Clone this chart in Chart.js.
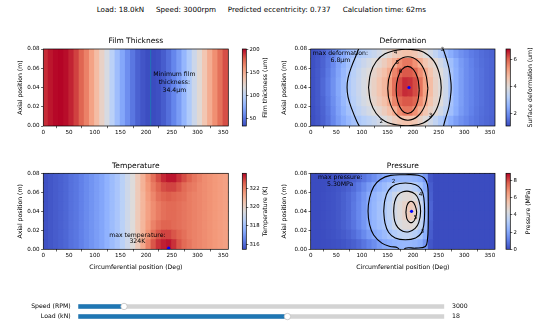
<!DOCTYPE html>
<html>
<head>
<meta charset="utf-8">
<title>Bearing field maps</title>
<script src="https://cdn.jsdelivr.net/npm/chart.js@4.4.1/dist/chart.umd.min.js"></script>
<style>
  html, body { margin: 0; padding: 0; background: #fff; }
  #page { position: relative; width: 550px; height: 333px; overflow: hidden; font-family: "DejaVu Sans", sans-serif; }
  #page canvas { position: absolute; }
  .info { position: absolute; top: 5px; font-size: 7.2px; line-height: 10px; white-space: nowrap; color: #000; }
</style>
</head>
<body>
<div id="page"></div>
<script>
// ---- values ----
const infoLabels = ['Load: ', 'Speed: ', 'Predicted eccentricity: ', 'Calculation time: '];
const infoValues = ['18.0kN', '3000rpm', '0.737', '62ms'];

const thetaCenters = [5,15,25,35,45,55,65,75,85,95,105,115,125,135,145,155,165,175,185,195,205,215,225,235,245,255,265,275,285,295,305,315,325,335,345,355];
const axialEdges = [0, 0.01, 0.02, 0.03, 0.04, 0.05, 0.06, 0.07, 0.08];
const xTicks = [0, 50, 100, 150, 200, 250, 300, 350];
const yTicks = [0, 0.02, 0.04, 0.06, 0.08];

// film thickness (um), one value per 10 deg column
const filmThickness = [193,198,201,202,200,195,188,179,169,156,143,128,114,99,85,72,61,51,43,38,35,34.4,36,41,48,57,67,80,93,108,122,137,151,164,175,185];
const filmRange = [34.4, 202];
const filmTicks = [50, 100, 150, 200];
const filmMinTheta = 209;

// surface deformation (um), rows from y=0 upwards
const defRowEdge   = [1.17,1.26,1.4,1.6,1.9,2.2,2.45,2.7,2.9,3.05,3.2,3.35,3.5,3.7,3.9,4.15,4.4,4.55,4.65,4.65,4.55,4.3,4.0,3.7,3.4,3.1,2.8,2.5,2.25,2.05,1.9,1.75,1.65,1.55,1.48,1.42];
const defRowNear   = [1.18,1.28,1.42,1.65,1.95,2.3,2.6,2.9,3.15,3.35,3.55,3.75,3.95,4.15,4.4,4.7,5.0,5.5,5.75,5.75,5.45,5.0,4.6,4.3,4.05,3.7,3.35,2.85,2.5,2.2,2.0,1.82,1.68,1.58,1.5,1.45];
const defRowMid    = [1.2,1.3,1.45,1.7,2.0,2.35,2.7,3.0,3.25,3.5,3.75,3.95,4.2,4.45,4.7,5.05,5.6,5.95,6.1,6.1,5.95,5.5,5.05,4.6,4.2,3.95,3.55,2.95,2.55,2.25,2.0,1.85,1.7,1.6,1.5,1.45];
const defRowCenter = [1.2,1.3,1.5,1.75,2.05,2.4,2.75,3.05,3.3,3.55,3.8,4.05,4.3,4.6,4.85,5.3,5.85,6.2,6.45,6.4,6.2,5.8,5.2,4.75,4.25,4.0,3.6,2.95,2.55,2.25,2.0,1.85,1.7,1.6,1.5,1.45];
const deformation = [defRowEdge, defRowNear, defRowMid, defRowCenter, defRowCenter, defRowMid, defRowNear, defRowEdge];
const defRange = [1.12, 6.75];
const defTicks = [2, 4, 6];
const def6 = [[212,0.0375],[209,0.0498],[200.7,0.0587],[189.5,0.062],[178.2,0.0587],[170,0.0498],[167,0.0375],[170,0.0253],[178.2,0.0163],[189.5,0.013],[200.7,0.0163],[209,0.0253],[212,0.0375]];
const def5 = [[229,0.039],[223.8,0.0555],[209.5,0.0676],[189.8,0.072],[170.2,0.0676],[155.8,0.0555],[150.5,0.039],[155.8,0.0225],[170.2,0.0104],[189.8,0.006],[209.5,0.0104],[223.8,0.0225],[229,0.039]];
const def4 = [[113,0.04],[117,0.055],[128,0.067],[145,0.075],[170,0.079],[195,0.0795],[220,0.077],[240,0.068],[251,0.055],[255,0.04],[251,0.025],[240,0.012],[220,0.003],[195,0.0005],[170,0.001],[145,0.005],[128,0.013],[117,0.025],[113,0.04]];
const def3L = [[100,-0.005],[90,0.005],[80,0.018],[73,0.03],[71,0.04],[73,0.05],[80,0.062],[90,0.075],[97,0.085]];
const def3R = [[255,0.085],[262,0.075],[270,0.06],[274,0.045],[274,0.035],[270,0.02],[263,0.007],[257,-0.005]];
const defLevelLabels = [['4',165.6,0.0762],['5',169,0.0662],['6',175.4,0.0564],['3',234,0.0104],['2',138,0.0045],['3',257,0.079]];
const defPeak = [192, 0.04];

// temperature (K), rows from y=0 upwards
const temperature = [
  [315.6,315.7,315.8,315.9,316.0,316.2,316.3,316.5,316.7,316.9,317.1,317.3,317.6,317.9,318.2,318.6,319.1,319.6,320.3,321.2,322.0,322.7,323.1,323.3,323.4,323.1,322.7,322.4,322.2,322.0,321.9,321.8,321.7,321.6,321.5,321.4],
  [315.6,315.7,315.8,315.9,316.0,316.2,316.3,316.5,316.7,316.9,317.1,317.3,317.6,317.9,318.2,318.6,319.1,319.6,320.3,321.0,321.7,322.3,322.7,322.9,322.9,322.7,322.5,322.3,322.1,322.0,321.9,321.8,321.7,321.6,321.5,321.4],
  [315.6,315.7,315.8,315.9,316.0,316.2,316.3,316.5,316.7,316.9,317.1,317.3,317.6,317.9,318.2,318.6,319.1,319.6,320.3,320.9,321.5,322.0,322.3,322.5,322.5,322.4,322.3,322.2,322.1,322.0,321.9,321.8,321.7,321.6,321.5,321.4],
  [315.6,315.7,315.8,315.9,316.0,316.2,316.3,316.5,316.7,316.9,317.1,317.3,317.6,317.9,318.2,318.6,319.1,319.6,320.3,320.9,321.4,321.8,322.1,322.3,322.4,322.4,322.3,322.2,322.1,322.0,321.9,321.8,321.7,321.6,321.5,321.4],
  [315.6,315.7,315.8,315.9,316.0,316.2,316.3,316.5,316.7,316.9,317.1,317.3,317.6,317.9,318.2,318.6,319.1,319.6,320.3,320.9,321.4,321.8,322.1,322.3,322.4,322.4,322.3,322.2,322.1,322.0,321.9,321.8,321.7,321.6,321.5,321.4],
  [315.6,315.7,315.8,315.9,316.0,316.2,316.3,316.5,316.7,316.9,317.1,317.3,317.6,317.9,318.2,318.6,319.1,319.6,320.3,320.9,321.5,321.9,322.3,322.5,322.6,322.5,322.4,322.3,322.1,322.0,321.9,321.8,321.7,321.6,321.5,321.4],
  [315.6,315.7,315.8,315.9,316.0,316.2,316.3,316.5,316.7,316.9,317.1,317.3,317.6,317.9,318.2,318.6,319.1,319.6,320.3,321.0,321.6,322.1,322.5,322.8,322.9,322.9,322.7,322.4,322.2,322.1,321.9,321.8,321.7,321.6,321.5,321.4],
  [315.6,315.7,315.8,315.9,316.0,316.2,316.3,316.5,316.7,316.9,317.1,317.3,317.6,317.9,318.2,318.6,319.1,319.6,320.3,321.0,321.7,322.3,322.8,323.2,323.4,323.4,323.1,322.8,322.5,322.2,322.0,321.8,321.7,321.6,321.5,321.4]
];
const tempRange = [315.5, 323.6];
const tempTicks = [316, 318, 320, 322];
const tempPeak = [244, 0.0012];

// pressure (MPa), rows from y=0 upwards
const presRowEdge   = [0,0,0.02,0.05,0.08,0.12,0.18,0.28,0.4,0.6,0.85,1.1,1.4,1.75,2.05,2.2,2.35,2.45,2.5,2.5,2.4,2.2,1.6,0.2,0,0,0,0,0,0,0,0,0,0,0,0];
const presRowNear   = [0,0,0.03,0.08,0.12,0.2,0.3,0.45,0.65,0.95,1.3,1.7,2.05,2.3,2.6,2.9,3.2,3.45,3.55,3.55,3.3,2.9,2.2,0.35,0,0,0,0,0,0,0,0,0,0,0,0];
const presRowMid    = [0,0,0.05,0.1,0.15,0.25,0.4,0.6,0.85,1.2,1.6,2.05,2.4,2.7,2.95,3.3,3.85,4.3,4.55,4.6,4.4,3.6,2.5,0.4,0,0,0,0,0,0,0,0,0,0,0,0];
const presRowCenter = [0,0,0.05,0.1,0.15,0.25,0.4,0.6,0.9,1.25,1.65,2.1,2.45,2.8,3.1,3.5,4.1,4.5,4.9,5.25,5.0,3.95,2.6,0.5,0,0,0,0,0,0,0,0,0,0,0,0];
const pressure = [presRowEdge, presRowNear, presRowMid, presRowCenter, presRowCenter, presRowMid, presRowNear, presRowEdge];
const presRange = [0, 8.86];
const presTicks = [0, 2, 4, 6, 8];
const pres2 = [[176,-0.004],[170,0.0015],[155,0.003],[139,0.0065],[123,0.015],[115,0.026],[112,0.04],[115,0.054],[123,0.066],[136,0.0735],[156,0.0778],[185,0.0785],[210,0.078],[222,0.075],[228,0.068],[229.5,0.055],[229.5,0.025],[228,0.01],[224,0.003],[205,0.0012],[185,0.0012],[180,-0.004]];
const pres3 = [[142.6,0.04],[145,0.052],[152,0.062],[165,0.068],[185,0.0698],[205,0.068],[216,0.063],[221,0.054],[222.6,0.04],[221,0.026],[216,0.017],[205,0.012],[185,0.0101],[165,0.012],[152,0.018],[145,0.028],[142.6,0.04]];
const pres4 = [[162,0.04],[164,0.05],[170,0.057],[180,0.0605],[192,0.061],[204,0.058],[211,0.052],[214.7,0.04],[211,0.028],[204,0.022],[192,0.0185],[180,0.019],[170,0.023],[164,0.03],[162,0.04]];
const pres5 = [[186,0.039],[188,0.046],[193,0.05],[199,0.05],[204,0.046],[207,0.039],[204,0.032],[199,0.0285],[193,0.0285],[188,0.032],[186,0.039]];
const presLevelLabels = [['2',162,0.0716],['4',214.7,0.058],['5',205,0.033],['3',218,0.0185]];
const presPeak = [197, 0.04];

// sliders
const sliderLabels = ['Speed (RPM)', 'Load (kN)'];
const sliderValues = [3000, 18];
const sliderMin = [1000, 2];
const sliderMax = [17000, 30];

// ---- drawing ----
Chart.defaults.font.family = '"DejaVu Sans", sans-serif';
Chart.defaults.font.size = 6.2;
Chart.defaults.color = '#000';
Chart.defaults.animation = false;
Chart.defaults.responsive = false;
Chart.defaults.events = [];
Chart.defaults.plugins.legend.display = false;
Chart.defaults.plugins.tooltip.enabled = false;

const cwStops = [[59,76,192],[98,130,234],[141,176,254],[184,208,249],[221,220,220],[244,196,173],[244,154,123],[222,96,77],[180,4,38]];
function coolwarm(t) {
  t = Math.min(1, Math.max(0, t));
  const s = t * 8, i = Math.min(7, Math.floor(s)), f = s - i;
  const a = cwStops[i], b = cwStops[i + 1];
  return 'rgb(' + [0, 1, 2].map(k => Math.round(a[k] + (b[k] - a[k]) * f)).join(',') + ')';
}

const page = document.getElementById('page');
function addCanvas(box) {
  const c = document.createElement('canvas');
  c.width = box.w; c.height = box.h;
  c.style.left = box.left + 'px'; c.style.top = box.top + 'px';
  c.style.width = box.w + 'px'; c.style.height = box.h + 'px';
  page.appendChild(c);
  return c;
}

infoLabels.forEach((t, i) => {
  const s = document.createElement('span');
  s.className = 'info';
  s.style.left = [96.7, 156, 227.7, 342.7][i] + 'px';
  s.textContent = t + infoValues[i];
  page.appendChild(s);
});

const framePlugin = {
  id: 'frame',
  afterDatasetsDraw(chart) {
    const {ctx, chartArea: a} = chart;
    ctx.save();
    ctx.strokeStyle = '#000';
    ctx.lineWidth = 0.7;
    ctx.strokeRect(a.left, a.top, a.right - a.left, a.bottom - a.top);
    ctx.restore();
  }
};

const notesPlugin = {
  id: 'notes',
  afterDatasetsDraw(chart, args, opts) {
    const {ctx, scales: {x, y}} = chart;
    ctx.save();
    ctx.fillStyle = '#000';
    ctx.textAlign = 'center';
    ctx.textBaseline = 'middle';
    ctx.font = '6.2px "DejaVu Sans"';
    (opts.blocks || []).forEach(b => {
      const px = x.getPixelForValue(b.at[0]), py = y.getPixelForValue(b.at[1]);
      b.text.forEach((t, i) => ctx.fillText(t, px, py + i * b.gap));
    });
    ctx.font = '5.6px "DejaVu Sans"';
    (opts.levels || []).forEach(l => ctx.fillText(l[0], x.getPixelForValue(l[1]), y.getPixelForValue(l[2])));
    ctx.restore();
  }
};

const cbLabelPlugin = {
  id: 'cbLabel',
  afterDraw(chart, args, opts) {
    const {ctx, chartArea: a} = chart;
    ctx.save();
    ctx.translate(opts.x, (a.top + a.bottom) / 2);
    ctx.rotate(-Math.PI / 2);
    ctx.fillStyle = '#000';
    ctx.textAlign = 'center';
    ctx.textBaseline = 'middle';
    ctx.font = '6.2px "DejaVu Sans"';
    ctx.fillText(opts.text, 0, 0);
    ctx.restore();
  }
};

function fieldChart(box, area, spec) {
  const canvas = addCanvas(box);
  const xh = spec.xTitle ? 24 : 14;
  const datasets = [];
  spec.grid.forEach((row, r) => {
    datasets.push({
      type: 'bar', order: 3, grouped: false,
      data: row.map((v, c) => ({x: thetaCenters[c], y: [spec.edges[r], spec.edges[r + 1]]})),
      backgroundColor: row.map(v => coolwarm((v - spec.range[0]) / (spec.range[1] - spec.range[0]))),
      barPercentage: 1, categoryPercentage: 1, borderWidth: 0, inflateAmount: 0.6
    });
  });
  (spec.contours || []).forEach(pts => datasets.push({
    type: 'line', order: 2, data: pts.map(p => ({x: p[0], y: p[1]})),
    borderColor: '#000', borderWidth: 1.1, pointRadius: 0, tension: 0.4, fill: false
  }));
  if (spec.vline !== undefined) {
    datasets.push({type: 'line', order: 2, data: [{x: spec.vline, y: 0}, {x: spec.vline, y: 0.08}],
      borderColor: '#1f77b4', borderWidth: 1, pointRadius: 0});
  }
  if (spec.peak) {
    datasets.push({type: 'scatter', order: 1, data: [{x: spec.peak[0], y: spec.peak[1]}],
      pointRadius: 1.6, pointBackgroundColor: '#0000ff', pointBorderWidth: 0});
  }
  return new Chart(canvas, {
    type: 'bar',
    data: {datasets},
    options: {
      layout: {padding: {left: 0, right: box.left + box.w - area.r, top: area.t - box.top - 12, bottom: box.top + box.h - area.b - xh}},
      scales: {
        x: {
          type: 'linear', min: 0, max: 360, offset: false,
          afterFit: s => { s.height = xh; },
          afterBuildTicks: s => { s.ticks = xTicks.map(v => ({value: v})); },
          ticks: {padding: 0.8, font: {size: 5.6}, callback: v => String(v)},
          grid: {drawOnChartArea: false, tickLength: 2.2, color: '#000', lineWidth: 0.6},
          border: {display: false},
          title: {display: !!spec.xTitle, text: 'Circumferential position (Deg)', padding: {top: 0, bottom: 2.2}}
        },
        y: {
          min: 0, max: 0.08,
          afterFit: s => { s.width = area.l - box.left; },
          afterBuildTicks: s => { s.ticks = yTicks.map(v => ({value: v})); },
          ticks: {padding: 1.5, font: {size: 5.6}, callback: v => v.toFixed(2)},
          grid: {drawOnChartArea: false, tickLength: 2.2, color: '#000', lineWidth: 0.6},
          border: {display: false},
          title: {display: true, text: 'Axial position (m)', padding: {top: spec.yTitlePad, bottom: 0}}
        }
      },
      plugins: {
        title: {display: true, text: spec.title, fullSize: false, font: {size: 7.5, weight: 'normal'}, padding: {top: 0, bottom: 3}, color: '#000'},
        notes: {blocks: spec.blocks, levels: spec.levels}
      }
    },
    plugins: [framePlugin, notesPlugin]
  });
}

function colorbarChart(box, area, range, ticks, label, labelX) {
  const canvas = addCanvas(box);
  return new Chart(canvas, {
    type: 'bar',
    data: {labels: [''], datasets: [{
      data: [range], barPercentage: 1, categoryPercentage: 1, borderWidth: 0,
      backgroundColor: c => {
        const ch = c.chart;
        if (!ch.chartArea) return '#ccc';
        const y = ch.scales.y;
        const g = ch.ctx.createLinearGradient(0, y.getPixelForValue(range[0]), 0, y.getPixelForValue(range[1]));
        cwStops.forEach((s, i) => g.addColorStop(i / 8, 'rgb(' + s.join(',') + ')'));
        return g;
      }
    }]},
    options: {
      layout: {padding: {left: area.l - box.left, right: 0, top: area.t - box.top, bottom: box.top + box.h - area.b}},
      scales: {
        x: {display: false},
        y: {
          position: 'right', min: range[0], max: range[1],
          afterFit: s => { s.width = box.left + box.w - area.r; },
          afterBuildTicks: s => { s.ticks = ticks.map(v => ({value: v})); },
          ticks: {padding: 1.2, font: {size: 5.3}, callback: v => String(v)},
          grid: {drawOnChartArea: false, tickLength: 2, color: '#000', lineWidth: 0.6},
          border: {display: false}
        }
      },
      plugins: {cbLabel: {text: label, x: labelX - box.left}}
    },
    plugins: [framePlugin, cbLabelPlugin]
  });
}

// Film thickness
fieldChart({left: 0, top: 30, w: 236, h: 112}, {l: 43.3, t: 49, r: 228.3, b: 126}, {
  title: 'Film Thickness', grid: [filmThickness], edges: [0, 0.08], range: filmRange, yTitlePad: 16.2,
  vline: filmMinTheta,
  blocks: [{text: ['Minimum film', 'thickness:', '34.4μm'], at: [255, 0.0537], gap: 8.2}]
});
colorbarChart({left: 236, top: 40, w: 39, h: 95}, {l: 242.3, t: 49, r: 246.3, b: 126}, filmRange, filmTicks, 'Film thickness (um)', 265.3);

// Deformation
fieldChart({left: 275, top: 30, w: 230, h: 112}, {l: 310.7, t: 49, r: 495, b: 126}, {
  title: 'Deformation', grid: deformation, edges: axialEdges, range: defRange, yTitlePad: 5.9,
  contours: [def6, def5, def4, def3L, def3R], peak: defPeak, levels: defLevelLabels,
  blocks: [{text: ['max deformation:', '6.8μm'], at: [58, 0.0755], gap: 6.9}]
});
colorbarChart({left: 505, top: 40, w: 45, h: 95}, {l: 506, t: 49, r: 510.3, b: 126}, defRange, defTicks, 'Surface deformation (um)', 530);

// Temperature
fieldChart({left: 0, top: 155, w: 236, h: 120}, {l: 43.3, t: 173.3, r: 228.3, b: 249.3}, {
  title: 'Temperature', grid: temperature, edges: axialEdges, range: tempRange, yTitlePad: 16.2, xTitle: true,
  peak: tempPeak,
  blocks: [{text: ['max temperature:', '324K'], at: [183, 0.015], gap: 6.5}]
});
colorbarChart({left: 236, top: 164, w: 39, h: 95}, {l: 242.3, t: 173.3, r: 246.3, b: 249.3}, tempRange, tempTicks, 'Temperature (K)', 265.5);

// Pressure
fieldChart({left: 275, top: 155, w: 230, h: 120}, {l: 310.7, t: 173.3, r: 495, b: 249.3}, {
  title: 'Pressure', grid: pressure, edges: axialEdges, range: presRange, yTitlePad: 5.9, xTitle: true,
  contours: [pres2, pres3, pres4, pres5], peak: presPeak, levels: presLevelLabels,
  blocks: [{text: ['max pressure:', '5.30MPa'], at: [57.6, 0.0758], gap: 7}]
});
colorbarChart({left: 505, top: 164, w: 45, h: 95}, {l: 506, t: 173.3, r: 510.3, b: 249.3}, presRange, presTicks, 'Pressure (MPa)', 528.8);

// Sliders
const sliderFrac = sliderValues.map((v, i) => (v - sliderMin[i]) / (sliderMax[i] - sliderMin[i]));
const sliderBox = {left: 0, top: 290, w: 550, h: 43};
const sliderArea = {l: 78.3, t: 295.1, r: 444.3, b: 328.7};
new Chart(addCanvas(sliderBox), {
  type: 'bar',
  data: {
    labels: sliderLabels,
    datasets: [
      {type: 'scatter', order: 1, data: sliderFrac.map((f, i) => ({x: f, y: sliderLabels[i]})),
        pointRadius: 3.2, pointBackgroundColor: '#fff', pointBorderColor: '#bfbfbf', pointBorderWidth: 0.8},
      {order: 2, data: sliderFrac.map(f => [0, f]), backgroundColor: '#1f77b4', barThickness: 4, grouped: false, borderWidth: 0},
      {order: 3, data: sliderFrac.map(() => [0, 1]), backgroundColor: '#d3d3d3', barThickness: 4, grouped: false, borderWidth: 0}
    ]
  },
  options: {
    indexAxis: 'y',
    layout: {padding: {left: 0, right: 0, top: sliderArea.t - sliderBox.top, bottom: sliderBox.top + sliderBox.h - sliderArea.b}},
    scales: {
      x: {min: 0, max: 1, display: false},
      y: {
        type: 'category', position: 'left',
        afterFit: s => { s.width = sliderArea.l; },
        grid: {display: false, drawTicks: false}, border: {display: false},
        ticks: {padding: 7.6, autoSkip: false, font: {size: 6.2}}
      },
      y2: {
        type: 'category', position: 'right', labels: sliderValues.map(String), offset: true,
        afterFit: s => { s.width = sliderBox.w - sliderArea.r; },
        grid: {display: false, drawTicks: false}, border: {display: false},
        ticks: {padding: 7.7, autoSkip: false, font: {size: 6.2}}
      }
    }
  }
});
</script>
</body>
</html>
